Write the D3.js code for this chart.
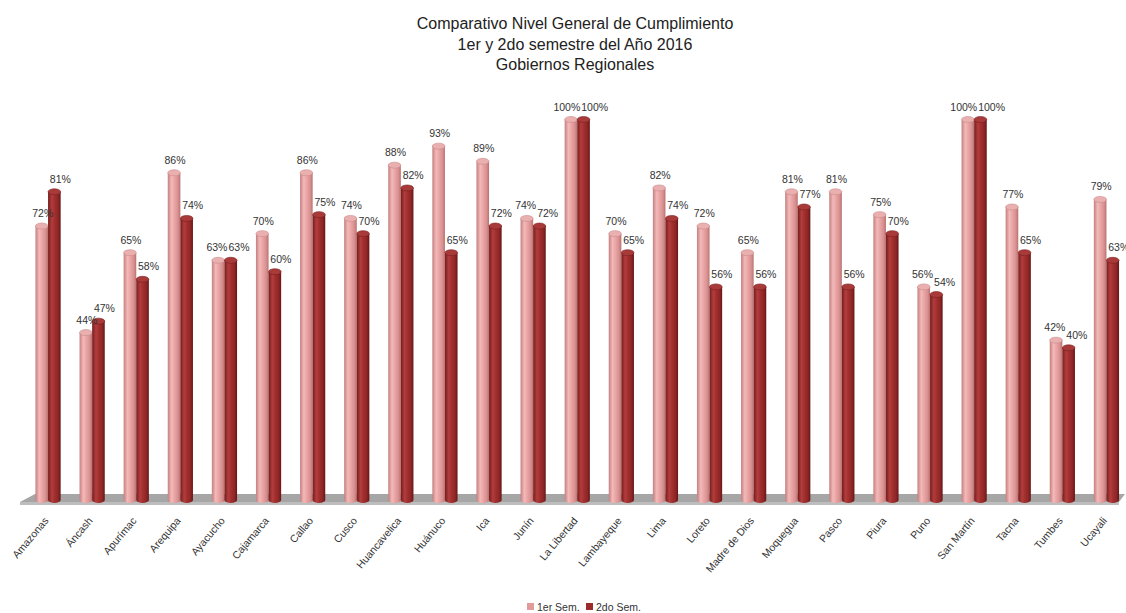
<!DOCTYPE html>
<html><head><meta charset="utf-8">
<script src="https://cdn.jsdelivr.net/npm/d3@7"></script>
<style>
html,body{margin:0;padding:0;background:#fff;}
svg{display:block;font-family:"Liberation Sans",Arial,sans-serif;}
</style></head>
<body><svg id="c" width="1126" height="613"></svg>
<script>
const categories = ["Amazonas","Áncash","Apurímac","Arequipa","Ayacucho","Cajamarca","Callao","Cusco","Huancavelica","Huánuco","Ica","Junín","La Libertad","Lambayeque","Lima","Loreto","Madre de Dios","Moquegua","Pasco","Piura","Puno","San Martín","Tacna","Tumbes","Ucayali"];
const sem1 = [72,44,65,86,63,70,86,74,88,93,89,74,100,70,82,72,65,81,81,75,56,100,77,42,79];
const sem2 = [81,47,58,74,63,60,75,70,82,65,72,72,100,65,74,56,56,77,56,70,54,100,65,40,63];
const seriesNames = ["1er Sem.","2do Sem."];
const titleLines = ["Comparativo Nivel General de Cumplimiento","1er y 2do semestre del Año 2016","Gobiernos Regionales"];

const svg = d3.select("#c");
const defs = svg.append("defs");
const palettes = [
  {id:"g0", stops:["#c47f7f","#f3b9b9","#e9a3a3","#d89191","#b97070"], top:"#eab0b0", stroke:"#c98a8a", legend:"#e39a9a"},
  {id:"g1", stops:["#761c1c","#b23d3d","#a02e2e","#8e2626","#661616"], top:"#a93a3a", stroke:"#7a1f1f", legend:"#9e2b2b"}
];
palettes.forEach(p=>{
  const g = defs.append("linearGradient").attr("id",p.id).attr("x1","0").attr("x2","1").attr("y1","0").attr("y2","0");
  [0,0.3,0.55,0.8,1].forEach((o,i)=>g.append("stop").attr("offset",o).attr("stop-color",p.stops[i]));
});

// title
svg.append("g").selectAll("text").data(titleLines).join("text")
  .attr("x",575).attr("y",(d,i)=>29+i*20.5).attr("text-anchor","middle")
  .attr("font-size",16).attr("fill","#222").text(d=>d);

const x0 = d3.scaleBand().domain(categories).range([26, 1128.5]).paddingInner(0).paddingOuter(0);
const bw = 12.6;
const x1 = d3.scaleBand().domain(seriesNames).range([x0.bandwidth()/2 - bw, x0.bandwidth()/2 + bw]);
const y = d3.scaleLinear().domain([0,100]).range([500,119.5]);

// floor
const fl = svg.append("g");
fl.append("path").attr("d","M35,494 L1125,494 L1119,502 L20,502 Z").attr("fill","#a6a6a6");
fl.append("path").attr("d","M20,502 L1119,502 L1119,505 L20,505 Z").attr("fill","#bdbdbd");

const data = categories.map((c,i)=>({c, vals:[sem1[i],sem2[i]]}));
const ry = 3;
const groups = svg.append("g").selectAll("g").data(data).join("g")
  .attr("transform",d=>`translate(${x0(d.c)},0)`);
seriesNames.forEach((s,si)=>{
  const p = palettes[si];
  const bx = x1(s), w = x1.bandwidth();
  groups.append("path")
    .attr("d",d=>{
      const t = y(d.vals[si]), b = y(0);
      return `M${bx},${t} L${bx},${b} A${w/2},${ry} 0 0 0 ${bx+w},${b} L${bx+w},${t} Z`;
    })
    .attr("fill",`url(#${p.id})`);
  groups.append("ellipse")
    .attr("cx",bx+w/2).attr("cy",d=>y(d.vals[si])).attr("rx",w/2).attr("ry",ry)
    .attr("fill",p.top).attr("stroke",p.stroke).attr("stroke-width",0.6);
});
// data labels with simple collision avoidance inside each group
groups.each(function(d){
  const g = d3.select(this);
  const labs = seriesNames.map((s,si)=>{
    const bx = x1(s), w = x1.bandwidth();
    const t = g.append("text")
      .attr("y",y(d.vals[si])-9)
      .attr("text-anchor","middle").attr("font-size",10.5).attr("fill","#333")
      .text(d.vals[si]+"%");
    return {t, cx: bx+w/2+(si===0?1:6), y:y(d.vals[si])-9, w:t.node().getComputedTextLength()};
  });
  const a = labs[0], b = labs[1];
  if (Math.abs(a.y-b.y) < 11) {
    const overlap = (a.cx + a.w/2) - (b.cx - b.w/2);
    if (overlap > 0) { a.cx -= overlap/2 + 0.5; b.cx += overlap/2 + 0.5; }
  }
  labs.forEach(l=>l.t.attr("x",l.cx));
});

// category labels
svg.append("g").selectAll("text").data(categories).join("text")
  .attr("transform",d=>`translate(${x0(d)+x0.bandwidth()/2+1},521) rotate(-50)`)
  .attr("text-anchor","end").attr("font-size",10.5).attr("fill","#333").text(d=>d);

// legend
const lg = svg.append("g");
const lx = [527,586];
seriesNames.forEach((s,i)=>{
  lg.append("rect").attr("x",lx[i]).attr("y",603).attr("width",7).attr("height",7).attr("fill",palettes[i].legend);
  lg.append("text").attr("x",lx[i]+10).attr("y",610.5).attr("font-size",10.5).attr("fill","#333").text(s);
});
</script></body></html>
